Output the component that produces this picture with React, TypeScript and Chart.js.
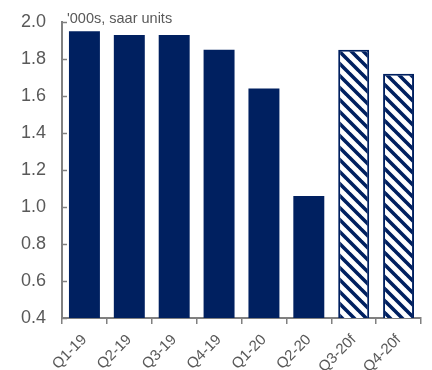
import React, { useEffect, useRef } from "react";
import { Chart, registerables } from "chart.js";

Chart.register(...registerables);

const categories = ["Q1-19", "Q2-19", "Q3-19", "Q4-19", "Q1-20", "Q2-20", "Q3-20f", "Q4-20f"];
const values = [1.95, 1.93, 1.93, 1.85, 1.64, 1.06, 1.85, 1.72];
const forecast = [false, false, false, false, false, false, true, true];
const unitLabel = "'000s, saar units";
const yMin = 0.4;
const yMax = 2.0;
const yStep = 0.2;

const NAVY = "#002060";
const GRAY = "#595959";
const AXIS = "#808080";
const FONT = "'Liberation Sans', Arial, sans-serif";

function makeHatch(): CanvasPattern | string {
  const c = document.createElement("canvas");
  const s = 12;
  c.width = s;
  c.height = s;
  const ctx = c.getContext("2d");
  if (!ctx) return NAVY;
  ctx.fillStyle = "#ffffff";
  ctx.fillRect(0, 0, s, s);
  ctx.strokeStyle = NAVY;
  ctx.lineWidth = 3.6;
  ctx.beginPath();
  for (let k = -1; k <= 1; k++) {
    ctx.moveTo(k * s - 1, -1);
    ctx.lineTo(k * s + s + 1, s + 1);
  }
  ctx.stroke();
  const p = ctx.createPattern(c, "repeat");
  return p || NAVY;
}

export default function App() {
  const ref = useRef<HTMLCanvasElement>(null);
  useEffect(() => {
    document.body.style.margin = "0";
    const canvas = ref.current;
    if (!canvas) return;
    const hatch = makeHatch();
    const innerTicks = {
      id: "innerTicks",
      afterDraw(chart: any) {
        const { ctx, chartArea, scales } = chart;
        const y = scales.y;
        ctx.save();
        ctx.strokeStyle = AXIS;
        ctx.lineWidth = 1.5;
        for (let v = yMin; v <= yMax + 1e-9; v += yStep) {
          const py = Math.round(y.getPixelForValue(v)) + 0.5;
          ctx.beginPath();
          ctx.moveTo(chartArea.left - 1, py);
          ctx.lineTo(chartArea.left + 5, py);
          ctx.stroke();
        }
        ctx.fillStyle = GRAY;
        ctx.font = `14.5px ${FONT}`;
        ctx.textBaseline = "middle";
        ctx.textAlign = "left";
        ctx.fillText(unitLabel, chartArea.left + 5, y.getPixelForValue(yMax) - 3);
        ctx.restore();
      },
    };
    const chart = new Chart(canvas, {
      type: "bar",
      data: {
        labels: categories,
        datasets: [
          {
            data: values,
            backgroundColor: forecast.map((f) => (f ? hatch : NAVY)) as any,
            borderColor: NAVY,
            borderWidth: forecast.map((f) => (f ? 2 : 0)),
            borderSkipped: false,
            barPercentage: 0.69,
            categoryPercentage: 1,
          },
        ],
      },
      options: {
        animation: false,
        responsive: false,
        maintainAspectRatio: false,
        layout: { padding: { top: 22, right: 11, left: 0, bottom: 0 } },
        plugins: { legend: { display: false }, tooltip: { enabled: false } },
        scales: {
          x: {
            afterFit: (s: any) => {
              s.height = 52;
            },
            grid: { drawOnChartArea: false, drawTicks: true, tickLength: 6, color: AXIS, lineWidth: 1.5 },
            border: { color: AXIS, width: 2 },
            ticks: {
              color: GRAY,
              font: { family: FONT, size: 15 },
              maxRotation: 45,
              minRotation: 45,
              padding: 7,
            },
          },
          y: {
            min: yMin,
            max: yMax,
            afterFit: (s: any) => {
              s.width = 62;
              s.paddingTop = 0;
            },
            grid: { drawOnChartArea: false, drawTicks: false },
            border: { color: AXIS, width: 2 },
            ticks: {
              stepSize: yStep,
              color: GRAY,
              padding: 16,
              font: { family: FONT, size: 18 },
              callback: (v: any) => Number(v).toFixed(1),
            },
          },
        },
      },
      plugins: [innerTicks],
    });
    return () => chart.destroy();
  }, []);
  return <canvas ref={ref} width={432} height={370} style={{ display: "block" }} />;
}
